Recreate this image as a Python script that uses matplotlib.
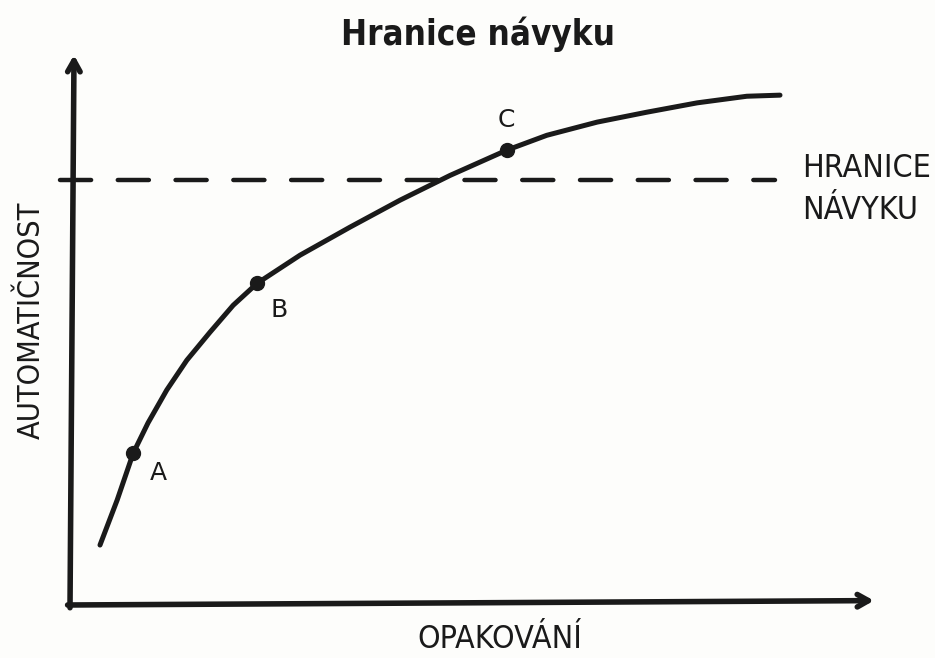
import matplotlib
matplotlib.use("Agg")
import matplotlib.pyplot as plt
import numpy as np

# ---- data ----
repetitions = [3.75, 5.9, 7.9, 9.75, 12.1, 14.6, 17.5, 20.4, 23.4, 28.75, 35.0,
               41.25, 47.5, 54.6, 59.6, 65.9, 72.1, 78.4, 84.6, 88.75]
automaticity = [10.9, 19.1, 27.6, 33.1, 39.1, 44.5, 49.6, 54.5, 58.5, 63.6, 68.7,
                73.6, 78.1, 82.7, 85.4, 87.8, 89.6, 91.3, 92.5, 92.7]
point_labels = ["A", "B", "C"]
point_index = [2, 8, 13]
threshold = 77.3
threshold_span = [-1.3, 88.1]

title = "Hranice návyku"
xlabel = "OPAKOVÁNÍ"
ylabel = "AUTOMATIČNOST"
threshold_label = "HRANICE\nNÁVYKU"

ink = "#1a1a1a"
bg = "#fdfdfb"

W, H = 935, 658
fig = plt.figure(figsize=(W / 100, H / 100), dpi=100, facecolor=bg)
ax = fig.add_axes([70 / W, (H - 605) / H, 800 / W, 550 / H])
ax.set_facecolor(bg)
ax.set_xlim(0, 100)
ax.set_ylim(0, 100)
ax.axis("off")

# axes with arrows
ax.annotate("", xy=(0.005, 1.0), xytext=(0.0, -0.005), xycoords="axes fraction",
            arrowprops=dict(arrowstyle="->,head_length=0.8,head_width=0.45",
                            lw=4, color=ink, shrinkA=0, shrinkB=0))
ax.annotate("", xy=(1.005, 0.008), xytext=(-0.003, 0.0), xycoords="axes fraction",
            arrowprops=dict(arrowstyle="->,head_length=0.8,head_width=0.45",
                            lw=4, color=ink, shrinkA=0, shrinkB=0))

# threshold dashed line
ax.plot(threshold_span, [threshold, threshold], color=ink, lw=3.2,
        dashes=(7.0, 6.0), solid_capstyle="round", dash_capstyle="round",
        clip_on=False)

# curve
ax.plot(repetitions, automaticity, color=ink, lw=3.6, solid_capstyle="round",
        solid_joinstyle="round", clip_on=False)

# points
px = [repetitions[i] for i in point_index]
py = [automaticity[i] for i in point_index]
ax.plot(px, py, "o", color=ink, ms=10, clip_on=False)

offsets = [(18, -14), (16, -19), (0, 22)]
for lab, x, y, off in zip(point_labels, px, py, offsets):
    ax.annotate(lab, (x, y), xytext=off, textcoords="offset points",
                ha="center", va="center", fontsize=18, color=ink,
                family="DejaVu Sans")

# threshold label
ax.annotate(threshold_label, (threshold_span[1], threshold), xytext=(20, -7),
            textcoords="offset points", ha="left", va="center",
            fontsize=23, color=ink, family="DejaVu Sans", fontstretch="condensed",
            linespacing=1.45)

# axis labels
fig.text(500 / W, 1 - 640 / H, xlabel, ha="center", va="center", fontsize=23,
         color=ink, family="DejaVu Sans", fontstretch="condensed")
fig.text(31 / W, 1 - 320 / H, ylabel, ha="center", va="center", rotation=90,
         fontsize=22, color=ink, family="DejaVu Sans", fontstretch="condensed")

# title
fig.text(478 / W, 1 - 34 / H, title, ha="center", va="center", fontsize=25,
         fontweight="bold", color=ink, family="DejaVu Sans",
         fontstretch="condensed")

fig.savefig("out.png", dpi=100, facecolor=bg)
